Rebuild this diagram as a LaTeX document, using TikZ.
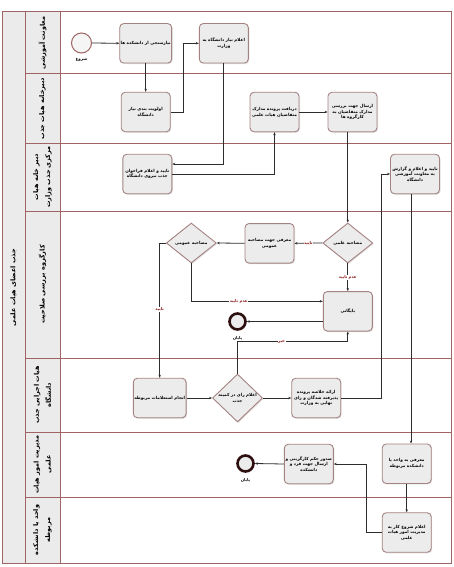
\documentclass[tikz,border=0pt]{standalone}
\usepackage{fontspec}
\usetikzlibrary{shapes.geometric,shadows,arrows.meta,calc}
\TeXXeTstate=1
\newfontfamily\arabicfont[Script=Arabic]{DejaVu Sans}
\newcommand{\pr}[1]{\beginR #1\endR}
\definecolor{lanec}{RGB}{160,100,100}
\definecolor{boxb}{RGB}{165,130,130}
\definecolor{boxf}{RGB}{236,236,236}
\definecolor{labf}{RGB}{235,235,235}
\definecolor{edgel}{RGB}{140,20,20}
\definecolor{linec}{RGB}{45,45,45}
\begin{document}
\begin{tikzpicture}[x=1pt,y=-1pt,
  task/.style={rectangle, rounded corners=4pt, draw=boxb, line width=0.9pt, fill=boxf,
    minimum width=49pt, minimum height=39.5pt, inner sep=1pt, align=center,
    font=\arabicfont\bfseries\fontsize{4.2}{5.6}\selectfont,
    drop shadow={shadow xshift=1pt, shadow yshift=-1pt, opacity=0.25}},
  gate/.style={diamond, draw=boxb, line width=0.9pt, fill=boxf,
    minimum width=50pt, minimum height=40pt, inner sep=0pt, align=center,
    font=\arabicfont\bfseries\fontsize{4.2}{5.6}\selectfont,
    drop shadow={shadow xshift=1pt, shadow yshift=-1pt, opacity=0.25}},
  arr/.style={draw=linec, line width=0.8pt, -{Stealth[length=3pt,width=2.4pt]}},
  elab/.style={fill=white, inner sep=0.6pt, text=edgel, font=\arabicfont\bfseries\fontsize{4}{5}\selectfont},
  evlab/.style={inner sep=0.5pt, font=\arabicfont\bfseries\fontsize{4}{5}\selectfont},
  lanelab/.style={rotate=90, align=center, font=\arabicfont\bfseries\fontsize{6.5}{12}\selectfont},
  lanel/.style={draw=lanec, line width=1pt},
  endev/.style={circle, draw={rgb,255:red,45;green,15;blue,15}, line width=2.6pt, fill=boxf, minimum size=16pt, inner sep=0pt},
  startev/.style={circle, draw=lanec, line width=1pt, fill={rgb,255:red,245;green,245;blue,245}, minimum size=20pt, inner sep=0pt},
]
\fill[white] (0,0) rectangle (453,567);
\useasboundingbox (0,0) rectangle (453,567);
% pool and lanes
\fill[labf] (2,12) rectangle (60,563);
\draw[lanel] (2,12) rectangle (451,563);
\draw[lanel] (25,12) -- (25,563);
\draw[lanel] (60,12) -- (60,563);
\foreach \yy in {74,143,211,358,432,497} \draw[lanel] (25,\yy) -- (451,\yy);
\node[lanelab] (pool) at (13.5,287.5) {\pr{جذب اعضای هیات علمی}};
\node[lanelab] (L1) at (42.5,43) {\pr{معاونت آموزشی}};
\node[lanelab] (L2) at (42.5,108.5) {\pr{دبیرخانه هیات جذب}};
\node[lanelab] (L3) at (42.5,177) {\pr{دبیر خانه هیات}\\\pr{مرکزی جذب وزارت}};
\node[lanelab] (L4) at (42.5,284.5) {\pr{کارگروه بررسی صلاحیت}};
\node[lanelab] (L5) at (42.5,395) {\pr{هیات اجرایی جذب}\\\pr{دانشگاه}};
\node[lanelab] (L6) at (42.5,464.5) {\pr{مدیریت امور هیات}\\\pr{علمی}};
\node[lanelab] (L7) at (42.5,530) {\pr{واحد یا دانشکده}\\\pr{مربوطه}};
% events
\node[startev] (start) at (81.5,43) {};
\node[evlab] (startl) at (81.5,60) {\pr{شروع}};
\node[endev] (e1) at (237.5,321.5) {};
\node[evlab] (e1l) at (237.5,338) {\pr{پایان}};
\node[endev] (e2) at (245.5,463.5) {};
\node[evlab] (e2l) at (245.5,480) {\pr{پایان}};
% tasks
\node[task] (t1) at (145.7,43.3) {\pr{نیازسنجی از دانشکده ها}};
\node[task] (t2) at (223.8,43.3) {\pr{اعلام نیاز دانشگاه به}\\\pr{وزارت}};
\node[task] (t3) at (145.7,112) {\pr{اولویت بندی نیاز}\\\pr{دانشگاه}};
\node[task] (t4) at (274.5,112) {\pr{دریافت پرونده مدارک}\\\pr{متقاضیان هیات علمی}};
\node[task] (t5) at (352.5,112) {\pr{ارسال جهت بررسی}\\\pr{مدارک متقاضیان به}\\\pr{کارگروه ها}};
\node[task] (t6) at (147.3,174) {\pr{تایید و اعلام فراخوان}\\\pr{جذب نیروی دانشگاه}};
\node[task] (t7) at (415,174) {\pr{تایید و اعلام و گزارش}\\\pr{به معاونت آموزشی}\\\pr{دانشگاه}};
\node[gate] (d1) at (347.8,243) {\pr{مصاحبه علمی}};
\node[task] (t8) at (269.5,243.3) {\pr{معرفی جهت مصاحبه}\\\pr{عمومی}};
\node[gate] (d2) at (191.3,243) {\pr{مصاحبه عمومی}};
\node[task] (t9) at (347.8,311.3) {\pr{بایگانی}};
\node[task] (t10) at (159.7,398) {\pr{انجام استعلامات مربوطه}};
\node[gate] (d3) at (237.5,398) {\pr{اعلام رای در کمیته}\\\pr{جذب}};
\node[task] (t11) at (316.2,398) {\pr{ارائه خلاصه پرونده}\\\pr{پذیرفته شدگان و رای}\\\pr{نهایی به وزارت}};
\node[task] (t12) at (406.7,463.7) {\pr{معرفی به واحد یا}\\\pr{دانشکده مربوطه}};
\node[task] (t13) at (308.8,464) {\pr{صدور حکم کارگزینی و}\\\pr{ارسال جهت فرد و}\\\pr{دانشکده}};
\node[task] (t14) at (406.7,532.5) {\pr{اعلام شروع کار به}\\\pr{مدیریت امور هیات}\\\pr{علمی}};
% connectors
\draw[arr] (start.east) -- (t1.west);
\draw[arr] (t1.south) -- (t3.north);
\draw[arr] (t3.east) -- ++(13,0) |- (t2.west);
\draw[arr] (t2.south) |- ($(t6.east)+(0,-10)$);
\draw[arr] (t6.east) -| (t4.south);
\draw[arr] (t4.east) -- (t5.west);
\draw[arr] (d1.north |- t5.south) -- (d1.north);
\draw[arr] (d1.west) -- node[elab]{\pr{تایید}} (t8.east);
\draw[arr] (t8.west) -- (d2.east);
\draw[arr] (d1.south) -- node[elab]{\pr{عدم تایید}} (t9.north);
\draw[arr] (d2.south) |- node[elab, pos=0.68]{\pr{عدم تایید}} ($(t9.west)+(0,-10)$);
\draw[arr] (d2.west) -| node[elab, pos=0.745]{\pr{تایید}} (t10.north);
\draw[arr] (t9.west |- e1) -- (e1.east);
\draw[arr] (t10.east) -- (d3.west);
\draw[arr] (d3.north) -- ++(0,-32) -| node[elab, pos=0.2]{\pr{خیر}} (t9.south);
\draw[arr] (d3.east) -- (t11.west);
\draw[arr] (t11.east) -- ++(40,0) |- (t7.west);
\draw[arr] ([xshift=-4pt]t7.south) -- ([xshift=-4pt]t7.south |- t12.north);
\draw[arr] (t12.south) -- (t14.north);
\draw[arr] (t14.west) -- ++(-15,0) |- (t13.east);
\draw[arr] (t13.west) -- (e2.east);
\end{tikzpicture}
\end{document}
